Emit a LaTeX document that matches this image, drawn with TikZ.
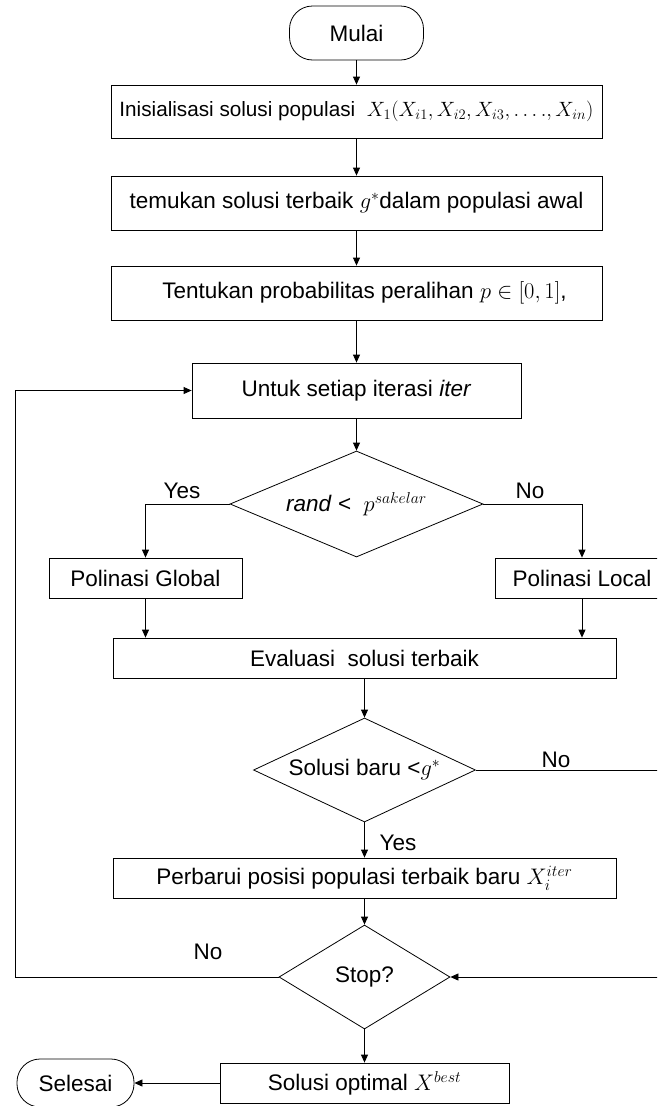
\RequirePackage{fix-cm}
\documentclass[tikz,border=0pt]{standalone}
\usepackage{fontspec}
\setmainfont{Liberation Sans}
\usetikzlibrary{shapes.geometric,arrows.meta}
\begin{document}
\begin{tikzpicture}[x=1pt,y=-1pt,font=\fontsize{22.5}{26}\selectfont,line width=0.8pt,
  >={Triangle[length=8pt,width=7pt]},
  box/.style={draw,rectangle,inner sep=0pt,align=center},
  term/.style={draw,rectangle,rounded corners=23pt,inner sep=0pt},
  dec/.style={draw,diamond,inner sep=0pt},
  lbl/.style={inner sep=0pt}]
\useasboundingbox (0,0) rectangle (657,1106);
\clip (0,0) rectangle (657,1106);
\node[term,minimum width=134pt,minimum height=54pt] (mulai) at (356.5,33) {Mulai};
\node[box,minimum width=491pt,minimum height=53pt,font=\fontsize{20.7}{24}\selectfont] (b1) at (356.5,111.5) {Inisialisasi solusi populasi\ \ $X_1(X_{i1},X_{i2},X_{i3},\ldots.,X_{in})$};
\node[box,minimum width=491pt,minimum height=54pt] (b2) at (356.5,203) {temukan solusi terbaik $g^{*}$dalam populasi awal};
\node[box,minimum width=491pt,minimum height=54pt] (b3) at (356.5,293) {\hspace*{16pt}Tentukan probabilitas peralihan $p\in[0,1]$,};
\node[box,minimum width=329pt,minimum height=55pt] (b4) at (356.5,390.5) {Untuk setiap iterasi \textit{iter}};
\node[dec,minimum width=253pt,minimum height=106pt,shape aspect=2.4] (d1) at (356.5,504) {\textit{rand} <\ \ $p^{sakelar}$};
\node[box,minimum width=193pt,minimum height=40pt] (pg) at (145.5,578) {Polinasi Global};
\node[box,minimum width=174pt,minimum height=40pt] (pl) at (582,578) {Polinasi Local};
\node[box,minimum width=503pt,minimum height=40pt] (ev) at (364.5,658) {Evaluasi\ \ solusi terbaik};
\node[dec,minimum width=222pt,minimum height=104pt,shape aspect=2.13] (d2) at (364.5,770) {Solusi baru <$g^{*}$};
\node[box,minimum width=503pt,minimum height=40pt] (pb) at (364.5,878) {Perbarui posisi populasi terbaik baru $X_i^{iter}$};
\node[dec,minimum width=171pt,minimum height=104pt,shape aspect=1.64] (st) at (364.5,977) {Stop?};
\node[box,minimum width=289pt,minimum height=40pt] (so) at (364.5,1083) {Solusi optimal $X^{best}$};
\node[term,minimum width=117pt,minimum height=48pt] (se) at (75.5,1083) {Selesai};
\coordinate (rgt) at (690,0);
\coordinate (lft) at (15,0);
\draw[->] (mulai) -- (b1);
\draw[->] (b1) -- (b2);
\draw[->] (b2) -- (b3);
\draw[->] (b3) -- (b4);
\draw[->] (b4) -- (d1);
\draw[->] (d1.west) -| (pg.north);
\draw[->] (d1.east) -| (pl.north);
\draw[->] (pg.south) -- (pg.south |- ev.north);
\draw[->] (pl.south) -- (pl.south |- ev.north);
\draw[->] (ev) -- (d2);
\draw[->] (d2) -- (pb);
\draw[->] (pb) -- (st);
\draw[->] (st) -- (so);
\draw[->] (so) -- (se);
\draw[->] (d2.east) -- (d2.east -| rgt) |- (st.east);
\draw[->] (st.west) -- (st.west -| lft) |- (b4.west);
\node[lbl] (y1) at (182,491) {Yes};
\node[lbl] (n1) at (530,491) {No};
\node[lbl] (n2) at (556,760) {No};
\node[lbl] (y2) at (398,843) {Yes};
\node[lbl] (n3) at (208,952) {No};
\end{tikzpicture}
\end{document}
